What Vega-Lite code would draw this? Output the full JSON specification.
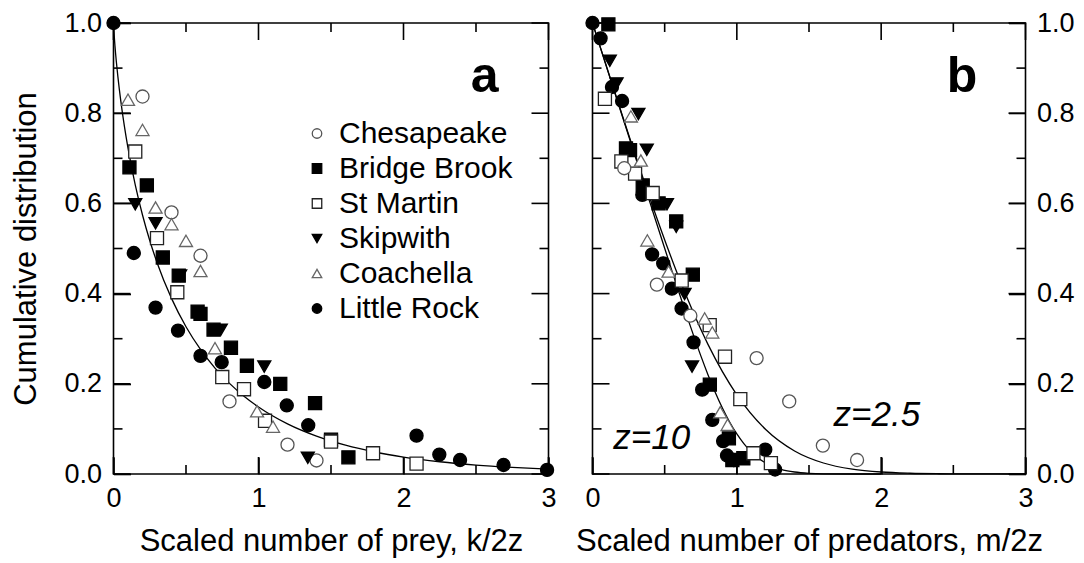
{
  "$schema": "https://vega.github.io/schema/vega-lite/v6.json",
  "background": "white",
  "padding": {"left": 9.5, "top": 8, "right": 5, "bottom": 5},
  "config": {
    "view": {"stroke": "#000", "strokeWidth": 1.6},
    "font": "Liberation Sans",
    "axis": {"domain": false, "labelColor": "#000", "titleColor": "#000", "labelFont": "Liberation Sans", "titleFont": "Liberation Sans", "labelFontSize": 27, "titleFontSize": 31, "titleFontWeight": "normal", "grid": false, "labelFlush": false, "labelOverlap": false, "tickColor": "#000", "tickWidth": 1.6},
    "legend": {"padding": 0}
  },
  "datasets": {
    "preyPts": [
      {"series": "Chesapeake", "x": 0.20, "y": 0.837}, {"series": "Chesapeake", "x": 0.40, "y": 0.58}, {"series": "Chesapeake", "x": 0.60, "y": 0.484}, {"series": "Chesapeake", "x": 0.80, "y": 0.161}, {"series": "Chesapeake", "x": 1.20, "y": 0.065}, {"series": "Chesapeake", "x": 1.40, "y": 0.03},
      {"series": "Bridge Brook", "x": 0.11, "y": 0.68}, {"series": "Bridge Brook", "x": 0.23, "y": 0.64}, {"series": "Bridge Brook", "x": 0.34, "y": 0.48}, {"series": "Bridge Brook", "x": 0.45, "y": 0.44}, {"series": "Bridge Brook", "x": 0.58, "y": 0.36}, {"series": "Bridge Brook", "x": 0.60, "y": 0.355}, {"series": "Bridge Brook", "x": 0.69, "y": 0.32}, {"series": "Bridge Brook", "x": 0.81, "y": 0.28}, {"series": "Bridge Brook", "x": 0.92, "y": 0.24}, {"series": "Bridge Brook", "x": 1.15, "y": 0.2}, {"series": "Bridge Brook", "x": 1.39, "y": 0.157}, {"series": "Bridge Brook", "x": 1.50, "y": 0.076}, {"series": "Bridge Brook", "x": 1.62, "y": 0.037},
      {"series": "St Martin", "x": 0.15, "y": 0.715}, {"series": "St Martin", "x": 0.30, "y": 0.523}, {"series": "St Martin", "x": 0.44, "y": 0.403}, {"series": "St Martin", "x": 0.75, "y": 0.215}, {"series": "St Martin", "x": 0.90, "y": 0.188}, {"series": "St Martin", "x": 1.045, "y": 0.118}, {"series": "St Martin", "x": 1.50, "y": 0.072}, {"series": "St Martin", "x": 1.79, "y": 0.046}, {"series": "St Martin", "x": 2.09, "y": 0.023},
      {"series": "Skipwith", "x": 0.15, "y": 0.598}, {"series": "Skipwith", "x": 0.29, "y": 0.556}, {"series": "Skipwith", "x": 0.46, "y": 0.44}, {"series": "Skipwith", "x": 0.74, "y": 0.32}, {"series": "Skipwith", "x": 1.04, "y": 0.238}, {"series": "Skipwith", "x": 1.34, "y": 0.036},
      {"series": "Coachella", "x": 0.10, "y": 0.83}, {"series": "Coachella", "x": 0.20, "y": 0.763}, {"series": "Coachella", "x": 0.29, "y": 0.591}, {"series": "Coachella", "x": 0.40, "y": 0.554}, {"series": "Coachella", "x": 0.50, "y": 0.517}, {"series": "Coachella", "x": 0.60, "y": 0.45}, {"series": "Coachella", "x": 0.70, "y": 0.279}, {"series": "Coachella", "x": 0.99, "y": 0.139}, {"series": "Coachella", "x": 1.10, "y": 0.105},
      {"series": "Little Rock", "x": 0.0, "y": 1.0}, {"series": "Little Rock", "x": 0.14, "y": 0.49}, {"series": "Little Rock", "x": 0.29, "y": 0.369}, {"series": "Little Rock", "x": 0.445, "y": 0.318}, {"series": "Little Rock", "x": 0.60, "y": 0.262}, {"series": "Little Rock", "x": 0.746, "y": 0.248}, {"series": "Little Rock", "x": 1.04, "y": 0.204}, {"series": "Little Rock", "x": 1.195, "y": 0.152}, {"series": "Little Rock", "x": 1.343, "y": 0.108}, {"series": "Little Rock", "x": 2.09, "y": 0.085}, {"series": "Little Rock", "x": 2.247, "y": 0.043}, {"series": "Little Rock", "x": 2.39, "y": 0.031}, {"series": "Little Rock", "x": 2.69, "y": 0.02}, {"series": "Little Rock", "x": 2.99, "y": 0.009}
    ],
    "predPts": [
      {"series": "Little Rock", "x": 0.0, "y": 1.0}, {"series": "Little Rock", "x": 0.056, "y": 0.966}, {"series": "Little Rock", "x": 0.135, "y": 0.858}, {"series": "Little Rock", "x": 0.205, "y": 0.827}, {"series": "Little Rock", "x": 0.345, "y": 0.619}, {"series": "Little Rock", "x": 0.413, "y": 0.487}, {"series": "Little Rock", "x": 0.49, "y": 0.467}, {"series": "Little Rock", "x": 0.55, "y": 0.411}, {"series": "Little Rock", "x": 0.617, "y": 0.367}, {"series": "Little Rock", "x": 0.70, "y": 0.292}, {"series": "Little Rock", "x": 0.76, "y": 0.187}, {"series": "Little Rock", "x": 0.83, "y": 0.12}, {"series": "Little Rock", "x": 0.905, "y": 0.073}, {"series": "Little Rock", "x": 0.932, "y": 0.041}, {"series": "Little Rock", "x": 1.197, "y": 0.054}, {"series": "Little Rock", "x": 1.265, "y": 0.01},
      {"series": "Bridge Brook", "x": 0.11, "y": 0.997}, {"series": "Bridge Brook", "x": 0.232, "y": 0.722}, {"series": "Bridge Brook", "x": 0.26, "y": 0.718}, {"series": "Bridge Brook", "x": 0.348, "y": 0.64}, {"series": "Bridge Brook", "x": 0.458, "y": 0.60}, {"series": "Bridge Brook", "x": 0.58, "y": 0.56}, {"series": "Bridge Brook", "x": 0.695, "y": 0.442}, {"series": "Bridge Brook", "x": 0.813, "y": 0.198}, {"series": "Bridge Brook", "x": 0.945, "y": 0.079}, {"series": "Bridge Brook", "x": 0.969, "y": 0.031}, {"series": "Bridge Brook", "x": 1.045, "y": 0.035},
      {"series": "Skipwith", "x": 0.12, "y": 0.916}, {"series": "Skipwith", "x": 0.167, "y": 0.866}, {"series": "Skipwith", "x": 0.318, "y": 0.798}, {"series": "Skipwith", "x": 0.376, "y": 0.719}, {"series": "Skipwith", "x": 0.516, "y": 0.598}, {"series": "Skipwith", "x": 0.58, "y": 0.548}, {"series": "Skipwith", "x": 0.638, "y": 0.399}, {"series": "Skipwith", "x": 0.69, "y": 0.238}, {"series": "Skipwith", "x": 0.98, "y": 0.029},
      {"series": "St Martin", "x": 0.086, "y": 0.832}, {"series": "St Martin", "x": 0.20, "y": 0.693}, {"series": "St Martin", "x": 0.295, "y": 0.666}, {"series": "St Martin", "x": 0.417, "y": 0.623}, {"series": "St Martin", "x": 0.618, "y": 0.429}, {"series": "St Martin", "x": 0.812, "y": 0.33}, {"series": "St Martin", "x": 0.918, "y": 0.26}, {"series": "St Martin", "x": 1.024, "y": 0.166}, {"series": "St Martin", "x": 1.115, "y": 0.046}, {"series": "St Martin", "x": 1.236, "y": 0.024},
      {"series": "Chesapeake", "x": 0.22, "y": 0.678}, {"series": "Chesapeake", "x": 0.446, "y": 0.42}, {"series": "Chesapeake", "x": 0.678, "y": 0.351}, {"series": "Chesapeake", "x": 1.137, "y": 0.257}, {"series": "Chesapeake", "x": 1.363, "y": 0.161}, {"series": "Chesapeake", "x": 1.596, "y": 0.063}, {"series": "Chesapeake", "x": 1.833, "y": 0.031},
      {"series": "Coachella", "x": 0.266, "y": 0.793}, {"series": "Coachella", "x": 0.335, "y": 0.695}, {"series": "Coachella", "x": 0.38, "y": 0.518}, {"series": "Coachella", "x": 0.527, "y": 0.449}, {"series": "Coachella", "x": 0.777, "y": 0.345}, {"series": "Coachella", "x": 0.83, "y": 0.314}, {"series": "Coachella", "x": 0.885, "y": 0.137}, {"series": "Coachella", "x": 0.936, "y": 0.109}
    ],
    "preyCurve": [
      {"x": 0, "y": 1}, {"x": 0.005, "y": 0.9714}, {"x": 0.01, "y": 0.9497}, {"x": 0.02, "y": 0.9131}, {"x": 0.03, "y": 0.8817}, {"x": 0.05, "y": 0.8278}, {"x": 0.075, "y": 0.7712}, {"x": 0.1, "y": 0.7226}, {"x": 0.15, "y": 0.641}, {"x": 0.2, "y": 0.5742}, {"x": 0.25, "y": 0.5177}, {"x": 0.3, "y": 0.4691}, {"x": 0.4, "y": 0.3894}, {"x": 0.5, "y": 0.3266}, {"x": 0.6, "y": 0.2762}, {"x": 0.7, "y": 0.2349}, {"x": 0.8, "y": 0.2009}, {"x": 0.9, "y": 0.1724}, {"x": 1.0, "y": 0.1485}, {"x": 1.2, "y": 0.1111}, {"x": 1.4, "y": 0.0839}, {"x": 1.6, "y": 0.0638}, {"x": 1.8, "y": 0.0488}, {"x": 2.0, "y": 0.0375}, {"x": 2.25, "y": 0.0272}, {"x": 2.5, "y": 0.0198}, {"x": 2.75, "y": 0.0145}, {"x": 3.0, "y": 0.0106}
    ],
    "predCurve": [
      {"z": "10", "x": 0, "y": 1}, {"z": "10", "x": 0.2, "y": 0.8}, {"z": "10", "x": 0.4, "y": 0.6001}, {"z": "10", "x": 0.5, "y": 0.5004}, {"z": "10", "x": 0.55, "y": 0.451}, {"z": "10", "x": 0.6, "y": 0.402}, {"z": "10", "x": 0.65, "y": 0.354}, {"z": "10", "x": 0.7, "y": 0.3073}, {"z": "10", "x": 0.75, "y": 0.2625}, {"z": "10", "x": 0.8, "y": 0.2203}, {"z": "10", "x": 0.85, "y": 0.1814}, {"z": "10", "x": 0.9, "y": 0.1463}, {"z": "10", "x": 0.95, "y": 0.1153}, {"z": "10", "x": 1.0, "y": 0.0888}, {"z": "10", "x": 1.05, "y": 0.0668}, {"z": "10", "x": 1.1, "y": 0.049}, {"z": "10", "x": 1.15, "y": 0.035}, {"z": "10", "x": 1.2, "y": 0.0244}, {"z": "10", "x": 1.25, "y": 0.0165}, {"z": "10", "x": 1.3, "y": 0.0109}, {"z": "10", "x": 1.35, "y": 0.007}, {"z": "10", "x": 1.4, "y": 0.0044}, {"z": "10", "x": 1.5, "y": 0.0016}, {"z": "10", "x": 1.6, "y": 0.0005}, {"z": "10", "x": 1.8, "y": 0.0}, {"z": "10", "x": 2.0, "y": 0.0},
      {"z": "2.5", "x": 0, "y": 1}, {"z": "2.5", "x": 0.2, "y": 0.8014}, {"z": "2.5", "x": 0.4, "y": 0.6094}, {"z": "2.5", "x": 0.6, "y": 0.4344}, {"z": "2.5", "x": 0.8, "y": 0.2874}, {"z": "2.5", "x": 1.0, "y": 0.1755}, {"z": "2.5", "x": 1.2, "y": 0.0987}, {"z": "2.5", "x": 1.4, "y": 0.0511}, {"z": "2.5", "x": 1.6, "y": 0.0244}, {"z": "2.5", "x": 1.8, "y": 0.0108}, {"z": "2.5", "x": 2.0, "y": 0.0044}, {"z": "2.5", "x": 2.2, "y": 0.0017}, {"z": "2.5", "x": 2.4, "y": 0.0006}, {"z": "2.5", "x": 2.6, "y": 0.0002}, {"z": "2.5", "x": 3.0, "y": 0.0}
    ],
    "xMajor": [{"v": 0}, {"v": 1}, {"v": 2}, {"v": 3}],
    "xMinor": [{"v": 0.5}, {"v": 1.5}, {"v": 2.5}],
    "yMajor": [{"v": 0}, {"v": 0.2}, {"v": 0.4}, {"v": 0.6}, {"v": 0.8}, {"v": 1}],
    "yMinor": [{"v": 0.1}, {"v": 0.3}, {"v": 0.5}, {"v": 0.7}, {"v": 0.9}],
    "panelTagA": [{"x": 2.56, "y": 0.88, "label": "a"}],
    "panelTagB": [{"x": 2.56, "y": 0.88, "label": "b"}],
    "zLabels": [{"x": 0.41, "y": 0.08, "label": "z=10"}, {"x": 1.97, "y": 0.13, "label": "z=2.5"}]
  },
  "spacing": 44,
  "bounds": "flush",
  "resolve": {"scale": {"fill": "independent", "shape": "independent", "stroke": "independent"}},
  "hconcat": [
    {
      "width": 435,
      "height": 451,
      "layer": [
        {
          "data": {"name": "preyCurve"},
          "mark": {"type": "line", "color": "#000", "strokeWidth": 1.3, "interpolate": "monotone"},
          "encoding": {
            "x": {"field": "x", "type": "quantitative", "scale": {"domain": [0, 3], "nice": false, "zero": false},
              "axis": {"orient": "bottom", "values": [0, 1, 2, 3], "format": "d", "tickSize": -17, "labelPadding": 28, "title": "Scaled number of prey, k/2z", "titlePadding": 15}},
            "y": {"field": "y", "type": "quantitative", "scale": {"domain": [0, 1], "nice": false, "zero": false},
              "axis": {"orient": "left", "values": [0, 0.2, 0.4, 0.6, 0.8, 1], "format": ".1f", "tickSize": -17, "labelPadding": 29, "title": "Cumulative distribution", "titlePadding": 21.5}}
          }
        },
        {
          "data": {"name": "preyPts"},
          "mark": {"type": "point", "filled": true, "opacity": 1, "size": 170, "strokeWidth": 1.3},
          "encoding": {
            "x": {"field": "x", "type": "quantitative"},
            "y": {"field": "y", "type": "quantitative"},
            "shape": {"field": "series", "type": "nominal",
              "scale": {"domain": ["Chesapeake", "Bridge Brook", "St Martin", "Skipwith", "Coachella", "Little Rock"], "range": ["circle", "square", "square", "triangle-down", "triangle-up", "circle"]},
              "legend": {"title": null, "orient": "none", "legendX": 188.5, "legendY": 95.5, "labelFontSize": 30, "labelFont": "Liberation Sans", "labelColor": "#000", "labelLimit": 0, "symbolSize": 90, "symbolStrokeWidth": 1.3, "rowPadding": 5, "labelOffset": 7}},
            "fill": {"field": "series", "type": "nominal",
              "scale": {"domain": ["Chesapeake", "Bridge Brook", "St Martin", "Skipwith", "Coachella", "Little Rock"], "range": ["#ffffff", "#000000", "#ffffff", "#000000", "#ffffff", "#000000"]},
              "legend": {"title": null, "orient": "none", "legendX": 188.5, "legendY": 95.5, "labelFontSize": 30, "labelFont": "Liberation Sans", "labelColor": "#000", "labelLimit": 0, "symbolSize": 90, "symbolStrokeWidth": 1.3, "rowPadding": 5, "labelOffset": 7}},
            "stroke": {"field": "series", "type": "nominal",
              "scale": {"domain": ["Chesapeake", "Bridge Brook", "St Martin", "Skipwith", "Coachella", "Little Rock"], "range": ["#555555", "#000000", "#222222", "#000000", "#666666", "#000000"]},
              "legend": {"title": null, "orient": "none", "legendX": 188.5, "legendY": 95.5, "labelFontSize": 30, "labelFont": "Liberation Sans", "labelColor": "#000", "labelLimit": 0, "symbolSize": 90, "symbolStrokeWidth": 1.3, "rowPadding": 5, "labelOffset": 7}}
          }
        },
        {"data": {"name": "xMajor"}, "mark": {"type": "rule", "color": "#000", "strokeWidth": 1.6}, "encoding": {"x": {"field": "v", "type": "quantitative"}, "y": {"datum": 0, "type": "quantitative"}, "y2": {"datum": 0.0377}}},
        {"data": {"name": "xMinor"}, "mark": {"type": "rule", "color": "#000", "strokeWidth": 1.6}, "encoding": {"x": {"field": "v", "type": "quantitative"}, "y": {"datum": 0, "type": "quantitative"}, "y2": {"datum": 0.02}}},
        {"data": {"name": "xMajor"}, "mark": {"type": "rule", "color": "#000", "strokeWidth": 1.6}, "encoding": {"x": {"field": "v", "type": "quantitative"}, "y": {"datum": 1, "type": "quantitative"}, "y2": {"datum": 0.9623}}},
        {"data": {"name": "xMinor"}, "mark": {"type": "rule", "color": "#000", "strokeWidth": 1.6}, "encoding": {"x": {"field": "v", "type": "quantitative"}, "y": {"datum": 1, "type": "quantitative"}, "y2": {"datum": 0.98}}},
        {"data": {"name": "yMajor"}, "mark": {"type": "rule", "color": "#000", "strokeWidth": 1.6}, "encoding": {"y": {"field": "v", "type": "quantitative"}, "x": {"datum": 0, "type": "quantitative"}, "x2": {"datum": 0.1172}}},
        {"data": {"name": "yMinor"}, "mark": {"type": "rule", "color": "#000", "strokeWidth": 1.6}, "encoding": {"y": {"field": "v", "type": "quantitative"}, "x": {"datum": 0, "type": "quantitative"}, "x2": {"datum": 0.0621}}},
        {"data": {"name": "yMajor"}, "mark": {"type": "rule", "color": "#000", "strokeWidth": 1.6}, "encoding": {"y": {"field": "v", "type": "quantitative"}, "x": {"datum": 3, "type": "quantitative"}, "x2": {"datum": 2.8828}}},
        {"data": {"name": "yMinor"}, "mark": {"type": "rule", "color": "#000", "strokeWidth": 1.6}, "encoding": {"y": {"field": "v", "type": "quantitative"}, "x": {"datum": 3, "type": "quantitative"}, "x2": {"datum": 2.9379}}},
        {
          "data": {"name": "panelTagA"},
          "mark": {"type": "text", "fontSize": 50, "fontWeight": "bold", "font": "Liberation Sans", "color": "#000", "align": "center", "baseline": "middle"},
          "encoding": {
            "x": {"field": "x", "type": "quantitative"},
            "y": {"field": "y", "type": "quantitative"},
            "text": {"field": "label"}
          }
        }
      ]
    },
    {
      "width": 433,
      "height": 451,
      "layer": [
        {
          "data": {"name": "predCurve"},
          "mark": {"type": "line", "color": "#000", "strokeWidth": 1.3, "interpolate": "monotone"},
          "encoding": {
            "detail": {"field": "z"},
            "x": {"field": "x", "type": "quantitative", "scale": {"domain": [0, 3], "nice": false, "zero": false},
              "axis": {"orient": "bottom", "values": [0, 1, 2, 3], "format": "d", "tickSize": -17, "labelPadding": 28, "title": "Scaled number of predators, m/2z", "titlePadding": 15}},
            "y": {"field": "y", "type": "quantitative", "scale": {"domain": [0, 1], "nice": false, "zero": false},
              "axis": {"orient": "right", "values": [0, 0.2, 0.4, 0.6, 0.8, 1], "format": ".1f", "tickSize": -17, "labelPadding": 28, "title": null}}
          }
        },
        {
          "data": {"name": "predPts"},
          "mark": {"type": "point", "filled": true, "opacity": 1, "size": 170, "strokeWidth": 1.3},
          "encoding": {
            "x": {"field": "x", "type": "quantitative"},
            "y": {"field": "y", "type": "quantitative"},
            "shape": {"field": "series", "type": "nominal",
              "scale": {"domain": ["Chesapeake", "Bridge Brook", "St Martin", "Skipwith", "Coachella", "Little Rock"], "range": ["circle", "square", "square", "triangle-down", "triangle-up", "circle"]}, "legend": null},
            "fill": {"field": "series", "type": "nominal",
              "scale": {"domain": ["Chesapeake", "Bridge Brook", "St Martin", "Skipwith", "Coachella", "Little Rock"], "range": ["#ffffff", "#000000", "#ffffff", "#000000", "#ffffff", "#000000"]}, "legend": null},
            "stroke": {"field": "series", "type": "nominal",
              "scale": {"domain": ["Chesapeake", "Bridge Brook", "St Martin", "Skipwith", "Coachella", "Little Rock"], "range": ["#555555", "#000000", "#222222", "#000000", "#666666", "#000000"]}, "legend": null}
          }
        },
        {"data": {"name": "xMajor"}, "mark": {"type": "rule", "color": "#000", "strokeWidth": 1.6}, "encoding": {"x": {"field": "v", "type": "quantitative"}, "y": {"datum": 0, "type": "quantitative"}, "y2": {"datum": 0.0377}}},
        {"data": {"name": "xMinor"}, "mark": {"type": "rule", "color": "#000", "strokeWidth": 1.6}, "encoding": {"x": {"field": "v", "type": "quantitative"}, "y": {"datum": 0, "type": "quantitative"}, "y2": {"datum": 0.02}}},
        {"data": {"name": "xMajor"}, "mark": {"type": "rule", "color": "#000", "strokeWidth": 1.6}, "encoding": {"x": {"field": "v", "type": "quantitative"}, "y": {"datum": 1, "type": "quantitative"}, "y2": {"datum": 0.9623}}},
        {"data": {"name": "xMinor"}, "mark": {"type": "rule", "color": "#000", "strokeWidth": 1.6}, "encoding": {"x": {"field": "v", "type": "quantitative"}, "y": {"datum": 1, "type": "quantitative"}, "y2": {"datum": 0.98}}},
        {"data": {"name": "yMajor"}, "mark": {"type": "rule", "color": "#000", "strokeWidth": 1.6}, "encoding": {"y": {"field": "v", "type": "quantitative"}, "x": {"datum": 0, "type": "quantitative"}, "x2": {"datum": 0.1178}}},
        {"data": {"name": "yMinor"}, "mark": {"type": "rule", "color": "#000", "strokeWidth": 1.6}, "encoding": {"y": {"field": "v", "type": "quantitative"}, "x": {"datum": 0, "type": "quantitative"}, "x2": {"datum": 0.0624}}},
        {"data": {"name": "yMajor"}, "mark": {"type": "rule", "color": "#000", "strokeWidth": 1.6}, "encoding": {"y": {"field": "v", "type": "quantitative"}, "x": {"datum": 3, "type": "quantitative"}, "x2": {"datum": 2.8822}}},
        {"data": {"name": "yMinor"}, "mark": {"type": "rule", "color": "#000", "strokeWidth": 1.6}, "encoding": {"y": {"field": "v", "type": "quantitative"}, "x": {"datum": 3, "type": "quantitative"}, "x2": {"datum": 2.9376}}},
        {
          "data": {"name": "panelTagB"},
          "mark": {"type": "text", "fontSize": 50, "fontWeight": "bold", "font": "Liberation Sans", "color": "#000", "align": "center", "baseline": "middle"},
          "encoding": {
            "x": {"field": "x", "type": "quantitative"},
            "y": {"field": "y", "type": "quantitative"},
            "text": {"field": "label"}
          }
        },
        {
          "data": {"name": "zLabels"},
          "mark": {"type": "text", "fontSize": 35, "fontStyle": "italic", "font": "Liberation Sans", "color": "#000", "align": "center", "baseline": "middle"},
          "encoding": {
            "x": {"field": "x", "type": "quantitative"},
            "y": {"field": "y", "type": "quantitative"},
            "text": {"field": "label"}
          }
        }
      ]
    }
  ]
}
